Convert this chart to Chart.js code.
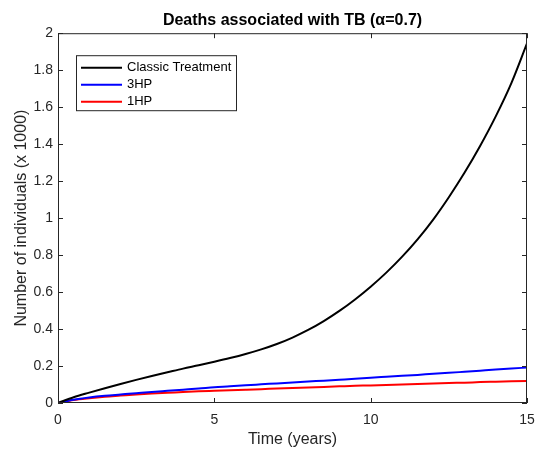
<!DOCTYPE html>
<html>
<head>
<meta charset="utf-8">
<script src="https://cdn.jsdelivr.net/npm/chart.js@4"></script>
<style>
  html, body { margin: 0; padding: 0; background: #fff; }
  #wrap { width: 535px; height: 449px; }
</style>
</head>
<body>
<div id="wrap"><canvas id="chart" width="535" height="449"></canvas></div>
<script>
// time axis (years)
const years = [0, 0.5, 1, 1.5, 2, 2.5, 3, 3.5, 4, 4.5, 5, 5.5, 6, 6.5, 7, 7.5, 8, 8.5, 9, 9.5, 10,
  10.5, 11, 11.5, 12, 12.5, 13, 13.5, 14, 14.5, 15];

// deaths (x 1000)
const classicTreatment = [0, 0.031, 0.056, 0.08, 0.103, 0.125, 0.146, 0.166, 0.186, 0.204, 0.223,
  0.243, 0.265, 0.29, 0.319, 0.354, 0.395, 0.443, 0.498, 0.56, 0.629,
  0.705, 0.79, 0.885, 0.992, 1.113, 1.245, 1.39, 1.55, 1.73, 1.945];
const hp3 = [0, 0.018, 0.03, 0.039, 0.046, 0.053, 0.06, 0.066, 0.072, 0.078, 0.085,
  0.09, 0.096, 0.101, 0.106, 0.111, 0.116, 0.121, 0.126, 0.131, 0.137,
  0.142, 0.147, 0.152, 0.158, 0.163, 0.169, 0.175, 0.181, 0.186, 0.192];
const hp1 = [0, 0.016, 0.026, 0.034, 0.04, 0.046, 0.051, 0.055, 0.059, 0.063, 0.066,
  0.069, 0.072, 0.075, 0.078, 0.081, 0.084, 0.087, 0.09, 0.093, 0.095,
  0.098, 0.1, 0.103, 0.105, 0.108, 0.11, 0.113, 0.115, 0.117, 0.119];

const xTicks = [0, 5, 10, 15];
const yTicks = [0, 0.2, 0.4, 0.6, 0.8, 1, 1.2, 1.4, 1.6, 1.8, 2];

const FONT = "'Liberation Sans', Arial, Helvetica, sans-serif";
const AXIS = '#262626';

function pts(ys) {
  return years.map((x, i) => ({ x: x, y: ys[i] }));
}

// box around the axes with inward ticks, like matlab
const boxPlugin = {
  id: 'boxPlugin',
  afterDatasetsDraw(chart) {
    const { ctx, chartArea: a, scales } = chart;
    ctx.save();
    ctx.strokeStyle = AXIS;
    ctx.lineWidth = 1;
    ctx.strokeRect(a.left + 0.5, a.top + 0.5, a.right - a.left - 1, a.bottom - a.top - 1);
    ctx.beginPath();
    xTicks.forEach(v => {
      const px = Math.round(scales.x.getPixelForValue(v)) + 0.5;
      ctx.moveTo(px, a.bottom); ctx.lineTo(px, a.bottom - 5);
      ctx.moveTo(px, a.top); ctx.lineTo(px, a.top + 5);
    });
    yTicks.forEach(v => {
      const py = Math.round(scales.y.getPixelForValue(v)) + 0.5;
      ctx.moveTo(a.left, py); ctx.lineTo(a.left + 5, py);
      ctx.moveTo(a.right, py); ctx.lineTo(a.right - 5, py);
    });
    ctx.stroke();

    // legend box
    const lx = a.left + 18, ly = a.top + 22, lw = 160, lh = 55;
    ctx.fillStyle = '#fff';
    ctx.fillRect(lx, ly, lw, lh);
    ctx.strokeRect(lx + 0.5, ly + 0.5, lw, lh);
    ctx.font = '13px ' + FONT;
    ctx.textBaseline = 'middle';
    chart.data.datasets.forEach((ds, i) => {
      const y = ly + 12.5 + i * 17;
      ctx.strokeStyle = ds.borderColor;
      ctx.lineWidth = 2;
      ctx.beginPath();
      ctx.moveTo(lx + 5, y); ctx.lineTo(lx + 46, y);
      ctx.stroke();
      ctx.fillStyle = '#000';
      ctx.fillText(ds.label, lx + 51, y);
    });
    ctx.restore();
  }
};

new Chart(document.getElementById('chart'), {
  type: 'line',
  data: {
    datasets: [
      { label: 'Classic Treatment', data: pts(classicTreatment), borderColor: '#000000' },
      { label: '3HP', data: pts(hp3), borderColor: '#0000ff' },
      { label: '1HP', data: pts(hp1), borderColor: '#ff0000' }
    ]
  },
  options: {
    responsive: false,
    animation: false,
    layout: { padding: { left: 0, right: 8, top: 0, bottom: 0 } },
    elements: {
      point: { radius: 0 },
      line: { borderWidth: 2, cubicInterpolationMode: 'monotone', fill: false }
    },
    plugins: {
      legend: { display: false },
      tooltip: { enabled: false },
      title: {
        display: true,
        fullSize: false,
        text: 'Deaths associated with TB (\u03b1=0.7)',
        color: '#000',
        font: { family: FONT, size: 16, weight: 'bold', lineHeight: 1.2 },
        padding: { top: 11, bottom: 3 }
      }
    },
    scales: {
      x: {
        type: 'linear',
        min: 0, max: 15,
        afterBuildTicks: s => { s.ticks = xTicks.map(v => ({ value: v })); },
        afterFit: s => { s.height = 46; s.paddingLeft = 0; s.paddingRight = 0; },
        grid: { display: false, drawTicks: false },
        border: { display: false },
        ticks: { color: AXIS, font: { family: FONT, size: 14 }, padding: 9, maxRotation: 0 },
        title: { display: true, text: 'Time (years)', color: AXIS, font: { family: FONT, size: 16 }, padding: { top: 0, bottom: 0 } }
      },
      y: {
        type: 'linear',
        min: 0, max: 2,
        afterBuildTicks: s => { s.ticks = yTicks.map(v => ({ value: v })); },
        afterFit: s => { s.width = 58; s.paddingTop = 0; s.paddingBottom = 0; },
        grid: { display: false, drawTicks: false },
        border: { display: false },
        ticks: {
          color: AXIS, font: { family: FONT, size: 14 }, padding: 5,
          callback: v => String(+v.toFixed(1))
        },
        title: { display: true, text: 'Number of individuals (x 1000)', color: AXIS, font: { family: FONT, size: 16 }, padding: { top: 12, bottom: 0 } }
      }
    }
  },
  plugins: [boxPlugin]
});
</script>
</body>
</html>
